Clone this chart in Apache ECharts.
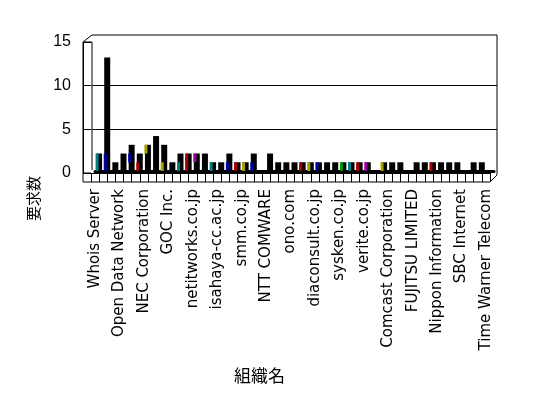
<!DOCTYPE html>
<html><head><meta charset="utf-8">
<script src="https://cdn.jsdelivr.net/npm/echarts@6/dist/echarts.min.js"></script>
<style>html,body{margin:0;padding:0;background:#fff}#c{width:548px;height:398px}</style>
</head><body><div id="c"></div>
<script>
// ---- data ----
const tickLabels = ['Whois Server','Open Data Network','NEC Corporation','GOC Inc.','netitworks.co.jp','isahaya-cc.ac.jp','smm.co.jp','NTT COMWARE','ono.com','diaconsult.co.jp','sysken.co.jp','verite.co.jp','Comcast Corporation','FUJITSU LIMITED','Nippon Information','SBC Internet','Time Warner Telecom'];
const requests = [2,13,1,2,3,2,3,4,3,1, 2,2,2,2,1,1,2,1,1,2, 0,2,1,1,1,1,1,1,1,1, 1,1,1,1,0,1,1,1,0,1, 1,1,1,1,1,0,1,1,0];
// coloured front segment of each bar: start value and height
const segStart = [0,0,0,0,1,0,2,0,0,0, 0,0,1,0,0,0,0,0,0,0, 0,0,0,0,0,0,0,0,0,0, 0,0,0,0,0,0,0,0,0,0, 0,0,0,0,0,0,0,0,0];
const segValue = [2,2,0,0,1,1,1,0,1,0, 1,2,1,0,1,0,1,1,1,1, 0,0,0,0,0,1,1,1,0,0, 1,1,1,1,0,1,0,0,0,0, 0,1,0,0,0,0,0,0,0];
const yTicks = [0,5,10,15];
// ---- styles ----
const segColorKey = {0:'t',1:'b',4:'b',5:'r',6:'o',8:'o',10:'t',11:'r',12:'p',14:'t',16:'b',17:'r',18:'o',19:'b',25:'r',26:'o',27:'b',30:'g',31:'t',32:'r',33:'p',35:'o',41:'r'};
const palette = {t:'#008080', b:'#0000a8', r:'#a80000', o:'#a8a000', p:'#a000a8', g:'#00a000'};

const cats = requests.map((_, i) => String(i));
const ch = echarts.init(document.getElementById('c'), null, {renderer:'canvas'});
const yBase = {type:'value', min: yTicks[0], max: yTicks[yTicks.length-1], interval: 5};
const hiddenX = (gi) => ({type:'category', gridIndex: gi, data: cats, axisLine:{show:false}, axisTick:{show:false}, axisLabel:{show:false}});
const hiddenY = (gi) => Object.assign({}, yBase, {gridIndex: gi, axisLine:{show:false}, axisTick:{show:false}, axisLabel:{show:false}, splitLine:{show:false}});
const black = '#000';
const lines = (pts) => ({type:'polyline', shape:{points:pts}, style:{stroke:black, lineWidth:1, fill:null}, silent:true});

ch.setOption({
  animation: false,
  backgroundColor: '#fff',
  grid: [
    {left: 91, right: 58, top: 42, bottom: 225},   // front axes
    {left: 92, right: 51, top: 42, bottom: 225},   // back wall
    {left: 95, right: 54, top: 40, bottom: 227},   // bars
    {left: 93, right: 56, top: 40, bottom: 227}    // coloured faces
  ],
  xAxis: [
    {type:'category', gridIndex:0, data:cats, boundaryGap:true,
     axisLine:{lineStyle:{color:black, width:1}},
     axisTick:{show:true, interval:0, length:9, lineStyle:{color:black}},
     axisLabel:{interval:2, rotate:90, margin:16, color:black, fontFamily:'DejaVu Sans', fontSize:15,
       formatter:(v, idx) => tickLabels[Math.round(idx/3)]}},
    hiddenX(1),
    Object.assign(hiddenX(2), {axisLine:{show:true, lineStyle:{color:black, width:3}}}),
    hiddenX(3)
  ],
  yAxis: [
    Object.assign({}, yBase, {gridIndex:0, offset:8,
      axisLine:{show:true, lineStyle:{color:black}},
      axisTick:{show:true, inside:true, length:8, lineStyle:{color:black}},
      axisLabel:{color:black, fontFamily:'Liberation Sans', fontSize:16, margin:12},
      splitLine:{show:false}}),
    Object.assign(hiddenY(1), {splitLine:{show:true, lineStyle:{color:['rgba(0,0,0,0)', black, black, 'rgba(0,0,0,0)'], width:1}}}),
    hiddenY(2),
    hiddenY(3)
  ],
  series: [
    {type:'bar', xAxisIndex:2, yAxisIndex:2, data:requests, barWidth:6, itemStyle:{color:black}, z:3},
    {type:'bar', xAxisIndex:3, yAxisIndex:3, stack:'f', data:segStart, barWidth:3, itemStyle:{color:'rgba(0,0,0,0)'}, z:4},
    {type:'bar', xAxisIndex:3, yAxisIndex:3, stack:'f', barWidth:3, z:4,
     data: segValue.map((v, i) => ({value: v, itemStyle:{color: palette[segColorKey[i]] || black}}))}
  ],
  graphic: [
    lines([[83,42],[83,182],[490,182]]),
    lines([[83,42],[92,35],[497,35],[497,175],[490,182]]),
    lines([[83,42],[92,42],[92,170]]),
    lines([[83,173],[91,173]]),
    {type:'text', left:26, top:176, rotation:Math.PI/2, style:{text:'要求数', font:'15px "Noto Sans CJK JP"', fill:black}},
    {type:'text', left:234, top:367, style:{text:'組織名', font:'17px "Noto Sans CJK JP"', fill:black}}
  ]
});
</script></body></html>
